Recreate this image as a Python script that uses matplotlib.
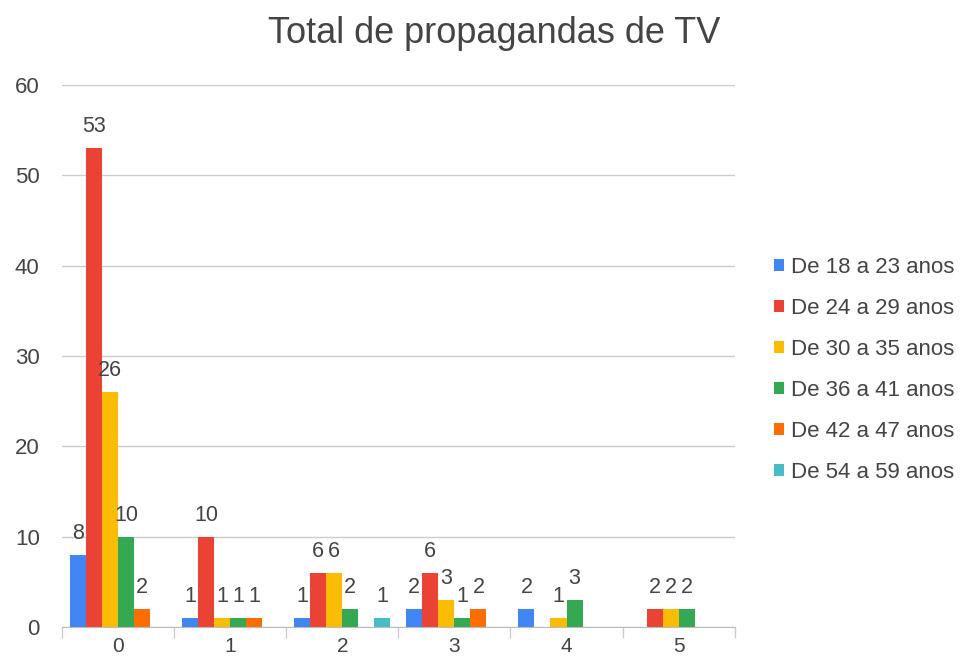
import matplotlib
matplotlib.use("Agg")
import matplotlib.pyplot as plt
import numpy as np

plt.rcParams['font.family'] = ['Liberation Sans', 'DejaVu Sans']

categories = ["0", "1", "2", "3", "4", "5"]
series_names = ["De 18 a 23 anos", "De 24 a 29 anos", "De 30 a 35 anos",
                "De 36 a 41 anos", "De 42 a 47 anos", "De 54 a 59 anos"]
age_18_23 = [8, 1, 1, 2, 2, 0]
age_24_29 = [53, 10, 6, 6, 0, 2]
age_30_35 = [26, 1, 6, 3, 1, 2]
age_36_41 = [10, 1, 2, 1, 3, 2]
age_42_47 = [2, 1, 0, 2, 0, 0]
age_54_59 = [0, 0, 1, 0, 0, 0]
series = [age_18_23, age_24_29, age_30_35, age_36_41, age_42_47, age_54_59]
colors = ["#4285F4", "#EA4335", "#FBBC04", "#34A853", "#FF6D01", "#46BDC6"]

text_col = "#444444"

fig = plt.figure(figsize=(9.68, 6.64), dpi=100)
ax = fig.add_axes([0.064, 0.0557, 0.695, 0.8163])

x = np.arange(len(categories))
w = 0.143
for i, (vals, col, name) in enumerate(zip(series, colors, series_names)):
    pos = x + (i - 2.5) * w
    ax.bar(pos, vals, width=w, color=col, label=name, zorder=3)
    for p, v in zip(pos, vals):
        if v > 0:
            ax.text(p, v + 1.2, str(v), ha='center', va='bottom',
                    fontsize=15.5, color=text_col, zorder=4)

ax.set_xlim(-0.5, 5.5)
ax.set_ylim(0, 60)
ax.set_yticks([0, 10, 20, 30, 40, 50, 60])
ax.yaxis.grid(True, color="#cccccc", linewidth=1, zorder=0)
ax.set_xticks(x)
ax.set_xticklabels(categories)
ax.set_xticks(np.arange(-0.5, 6.0, 1.0), minor=True)
ax.tick_params(axis='x', which='major', length=0, pad=7, labelsize=15, labelcolor=text_col)
ax.tick_params(axis='x', which='minor', length=8, color="#cccccc", width=1)
ax.tick_params(axis='y', length=0, pad=16, labelsize=16, labelcolor=text_col)
for s in ['top', 'right', 'left']:
    ax.spines[s].set_visible(False)
ax.spines['bottom'].set_color("#bbbbbb")
ax.spines['bottom'].set_zorder(5)

fig.text(0.511, 0.935, "Total de propagandas de TV", ha='center', va='baseline',
         fontsize=26, color=text_col)

leg = ax.legend(loc='center left', bbox_to_anchor=(1.045, 0.475), frameon=False,
                borderaxespad=0, fontsize=16, handlelength=0.45, handleheight=0.45,
                handletextpad=0.3, labelspacing=0.9, labelcolor=text_col)

fig.savefig("out.png", dpi=100)
